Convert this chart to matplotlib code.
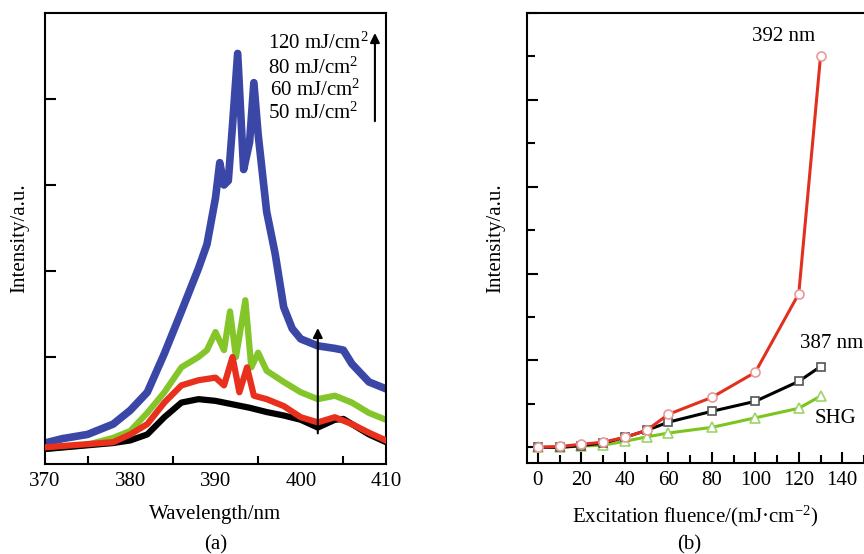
import matplotlib
matplotlib.use("Agg")
import matplotlib.pyplot as plt
from matplotlib.ticker import MultipleLocator, NullFormatter

plt.rcParams['font.family'] = ['Liberation Serif', 'DejaVu Serif']
plt.rcParams['mathtext.fontset'] = 'custom'
plt.rcParams['mathtext.rm'] = 'Liberation Serif'

# ---------------- data: panel (a) spectra ----------------
wl_blue = [370, 372, 375, 378, 380, 382, 384, 386, 388, 389, 390, 390.5, 391, 391.5, 392, 392.6,
           393.3, 394, 394.5, 395, 396, 397, 398, 399, 400, 402, 404, 405, 406, 408, 410]
i_blue = [0.0, 0.05, 0.1, 0.22, 0.38, 0.59, 1.04, 1.53, 2.03, 2.31, 2.85, 3.26, 3.0, 3.05, 3.7, 4.53,
          3.18, 3.5, 4.19, 3.59, 2.69, 2.2, 1.58, 1.33, 1.21, 1.13, 1.1, 1.08, 0.92, 0.71, 0.63]

wl_green = [370, 375, 378, 380, 382, 384, 386, 388, 389, 390, 391, 391.7, 392.4, 393.5, 394.2,
            395, 396, 398, 400, 402, 404, 406, 408, 410]
i_green = [-0.07, -0.02, 0.06, 0.14, 0.35, 0.59, 0.88, 1.0, 1.08, 1.29, 1.08, 1.53, 1.0, 1.66, 0.88,
           1.05, 0.84, 0.71, 0.59, 0.51, 0.55, 0.47, 0.35, 0.27]

wl_red = [370, 378, 380, 382, 384, 386, 388, 390, 391, 392, 392.8, 393.7, 394.5, 396, 398, 400,
          402, 404, 406, 408, 410]
i_red = [-0.05, 0.01, 0.1, 0.22, 0.47, 0.67, 0.73, 0.76, 0.67, 1.0, 0.59, 0.88, 0.55, 0.51, 0.43, 0.3,
         0.24, 0.3, 0.22, 0.12, 0.03]

wl_black = [370, 378, 380, 382, 384, 386, 388, 390, 392, 394, 396, 398, 400, 402, 404, 405, 406, 408, 410]
i_black = [-0.07, 0.0, 0.03, 0.1, 0.3, 0.47, 0.51, 0.49, 0.45, 0.41, 0.36, 0.32, 0.27, 0.18, 0.27, 0.28,
           0.22, 0.1, 0.01]

fluence_labels = ["120 mJ/cm$\\mathregular{^2}$", "80 mJ/cm$\\mathregular{^2}$",
                  "60 mJ/cm$\\mathregular{^2}$", "50 mJ/cm$\\mathregular{^2}$"]

# ---------------- data: panel (b) ----------------
fluence = [0, 10, 20, 30, 40, 50, 60, 80, 100, 120, 130]
i_392 = [0.0, 0.01, 0.035, 0.06, 0.115, 0.195, 0.38, 0.575, 0.864, 1.77, 4.5]
i_387 = [0.0, 0.0, 0.02, 0.05, 0.115, 0.195, 0.29, 0.415, 0.53, 0.76, 0.93]
i_shg = [0.0, 0.0, 0.015, 0.025, 0.07, 0.12, 0.165, 0.23, 0.34, 0.45, 0.59]

fig = plt.figure(figsize=(8.64, 5.54), dpi=100)
FS = 15

# ---------------- panel (a) ----------------
ax1 = fig.add_axes([45/864, 90/554, 341/864, 451/554])
ax1.plot(wl_black, i_black, color='black', lw=4.5, solid_joinstyle='round', zorder=2)
ax1.plot(wl_red, i_red, color='#e8301c', lw=4.5, solid_joinstyle='round', zorder=3)
ax1.plot(wl_green, i_green, color='#84c62a', lw=4.5, solid_joinstyle='round', zorder=1)
ax1.plot(wl_blue, i_blue, color='#3b47a6', lw=5.5, solid_joinstyle='round', zorder=0)
ax1.set_xlim(370, 410)
ax1.set_ylim(-0.244, 5.0)
ax1.xaxis.set_major_locator(MultipleLocator(10))
ax1.xaxis.set_minor_locator(MultipleLocator(5))
ax1.set_yticks([1, 2, 3, 4])
ax1.yaxis.set_major_formatter(NullFormatter())
ax1.tick_params(axis='both', which='both', direction='in', width=1.5, labelsize=FS)
ax1.tick_params(axis='x', which='major', length=0, pad=6)
ax1.tick_params(axis='x', which='minor', length=6)
ax1.tick_params(axis='y', which='major', length=8)
for s in ax1.spines.values():
    s.set_linewidth(1.5)
ax1.set_xlabel("Wavelength/nm", fontsize=FS, labelpad=10)
ax1.set_ylabel("Intensity/a.u.", fontsize=FS, labelpad=8)
ax1.text(0.5, (464 - 545) / 451, "(a)", transform=ax1.transAxes, ha='center', va='center', fontsize=FS)

ys = [4.65, 4.36, 4.10, 3.84]
xs = [396.2, 396.2, 396.4, 396.2]
for x, y, t in zip(xs, ys, fluence_labels):
    ax1.text(x, y, t, fontsize=FS, ha='left', va='center')
ax1.annotate("", xy=(408.7, 4.8), xytext=(408.7, 3.71),
             arrowprops=dict(arrowstyle='-|>', color='black', lw=1.5, mutation_scale=14))
ax1.annotate("", xy=(402.0, 1.37), xytext=(402.0, 0.08),
             arrowprops=dict(arrowstyle='-|>', color='black', lw=1.5, mutation_scale=14), zorder=5)

# ---------------- panel (b) ----------------
ax2 = fig.add_axes([527/864, 91/554, 337/864, 450/554])
ax2.plot(fluence, i_shg, color='#7cc41e', lw=2.2, marker='^', ms=6.5, mfc='white',
         mec='#9ed36a', mew=1.2, zorder=2)
ax2.plot(fluence, i_387, color='black', lw=2.2, marker='s', ms=6, mfc='white',
         mec='#555555', mew=1.2, zorder=3)
ax2.plot(fluence, i_392, color='#e23020', lw=2.2, marker='o', ms=6.5, mfc='white',
         mec='#e89a9a', mew=1.2, zorder=4)
ax2.set_xlim(-5, 150)
ax2.set_ylim(-0.18, 5.0)
ax2.xaxis.set_major_locator(MultipleLocator(20))
ax2.xaxis.set_minor_locator(MultipleLocator(10))
ax2.yaxis.set_major_locator(MultipleLocator(1))
ax2.yaxis.set_minor_locator(MultipleLocator(0.5))
ax2.yaxis.set_major_formatter(NullFormatter())
ax2.tick_params(axis='both', which='both', direction='in', width=1.5, labelsize=FS)
ax2.tick_params(axis='both', which='major', length=8)
ax2.tick_params(axis='both', which='minor', length=6)
ax2.tick_params(axis='x', which='major', pad=6)
for s in ax2.spines.values():
    s.set_linewidth(1.5)
ax2.spines['right'].set_visible(False)
ax2.set_xlabel("Excitation fluence/(mJ·cm$\\mathregular{^{-2}}$)", fontsize=FS, labelpad=10)
ax2.set_ylabel("Intensity/a.u.", fontsize=FS, labelpad=12)
ax2.text(0.48, (463 - 545) / 450, "(b)", transform=ax2.transAxes, ha='center', va='center', fontsize=FS)
ax2.text(113, 4.73, "392 nm", fontsize=FS, ha='center', va='center')
ax2.text(135, 1.2, "387 nm", fontsize=FS, ha='center', va='center')
ax2.text(137, 0.33, "SHG", fontsize=FS, ha='center', va='center')

fig.savefig("out.png", dpi=100)
